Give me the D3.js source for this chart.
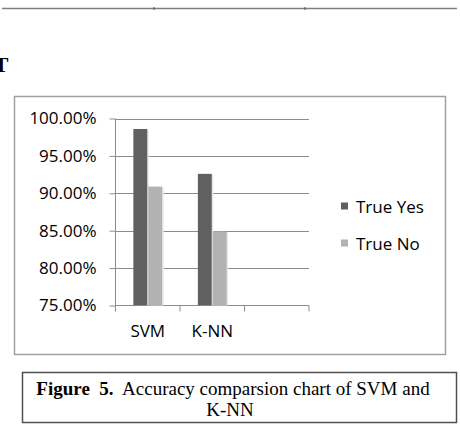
<!DOCTYPE html>
<html>
<head>
<meta charset="utf-8">
<script src="https://cdn.jsdelivr.net/npm/d3@7"></script>
<style>
  body { margin: 0; background: #fff; }
</style>
</head>
<body>
<div id="chart"></div>
<script>
// data
var categories = ["SVM", "K-NN", ""];
var seriesNames = ["True Yes", "True No"];
var trueYes = [0.986, 0.926, null];
var trueNo = [0.909, 0.849, null];
var yTicks = [0.75, 0.80, 0.85, 0.90, 0.95, 1.00];
var colors = ["#606060", "#b2b2b2"];

var W = 460, H = 426;
var svg = d3.select("#chart").append("svg")
    .attr("width", W)
    .attr("height", H);

// page bits around the figure
svg.append("line")
    .attr("x1", 2).attr("x2", 457).attr("y1", 8.5).attr("y2", 8.5)
    .attr("stroke", "#808080").attr("stroke-width", 1.5);
[154, 305].forEach(function(x) {
  svg.append("line").attr("x1", x).attr("x2", x).attr("y1", 7).attr("y2", 10)
      .attr("stroke", "#555").attr("stroke-width", 1);
});
svg.append("text")
    .attr("x", 1).attr("y", 72)
    .attr("text-anchor", "middle")
    .attr("font-family", "Liberation Serif, Times New Roman, serif")
    .attr("font-weight", "bold").attr("font-size", 22)
    .text("T");

// chart frame
svg.append("rect")
    .attr("x", 14.5).attr("y", 96.5).attr("width", 431).attr("height", 258)
    .attr("fill", "none").attr("stroke", "#a0a0a0").attr("stroke-width", 1.5);

var plot = {left: 115.5, right: 309, top: 118.5, bottom: 305.5};

var x = d3.scaleBand()
    .domain(d3.range(categories.length))
    .range([plot.left, plot.right]);

var y = d3.scaleLinear()
    .domain([0.75, 1.0])
    .range([plot.bottom, plot.top]);

var g = svg.append("g");

// gridlines
g.selectAll(".grid")
  .data(yTicks.slice(1))
  .enter().append("line")
    .attr("x1", plot.left).attr("x2", plot.right)
    .attr("y1", function(d) { return Math.round(y(d)) + 0.5; })
    .attr("y2", function(d) { return Math.round(y(d)) + 0.5; })
    .attr("stroke", "#8c8c8c").attr("stroke-width", 1);

// Y axis
var yAxis = g.append("g")
    .attr("transform", "translate(" + plot.left + ",0)")
    .call(d3.axisLeft(y).tickValues(yTicks).tickSize(6).tickPadding(13)
      .tickFormat(d3.format(".2%")));
yAxis.select(".domain").attr("stroke", "#8c8c8c").attr("d", "M0," + plot.top + "V" + plot.bottom);
yAxis.selectAll(".tick line").attr("stroke", "#8c8c8c");
yAxis.selectAll("text")
    .attr("font-family", "Open Sans, sans-serif").attr("font-size", 17)
    .attr("fill", "#000");

// X axis
var xAxis = g.append("g")
    .attr("transform", "translate(0," + plot.bottom + ")")
    .call(d3.axisBottom(x).tickSize(0).tickPadding(19)
      .tickFormat(function(i) { return categories[i]; }));
xAxis.select(".domain").attr("stroke", "#8c8c8c").attr("d", "M" + plot.left + ",0H" + plot.right);
xAxis.selectAll("text")
    .attr("font-family", "Open Sans, sans-serif").attr("font-size", 17)
    .attr("fill", "#000");
// category separators
g.selectAll(".sep")
  .data(d3.range(categories.length + 1))
  .enter().append("line")
    .attr("x1", function(i) { return plot.left + i * x.step(); })
    .attr("x2", function(i) { return plot.left + i * x.step(); })
    .attr("y1", plot.bottom).attr("y2", plot.bottom + 6)
    .attr("stroke", "#8c8c8c");

// bars
var inner = d3.scaleBand()
    .domain([0, 1])
    .range([0, x.bandwidth()])
    .paddingOuter(1.2)
    .paddingInner(0.07);

var series = [trueYes, trueNo];
series.forEach(function(vals, s) {
  var items = vals.map(function(v, i) { return {i: i, v: v}; })
    .filter(function(d) { return d.v != null; });
  // faint shadow
  g.selectAll(".shadow" + s)
    .data(items)
    .enter().append("rect")
      .attr("x", function(d) { return x(d.i) + inner(s) + 1.5; })
      .attr("y", function(d) { return y(d.v) + 1; })
      .attr("width", inner.bandwidth())
      .attr("height", function(d) { return plot.bottom - y(d.v) - 1; })
      .attr("fill", "#e6e6e6");
  g.selectAll(".bar" + s)
    .data(items)
    .enter().append("rect")
      .attr("x", function(d) { return x(d.i) + inner(s); })
      .attr("y", function(d) { return y(d.v); })
      .attr("width", inner.bandwidth())
      .attr("height", function(d) { return plot.bottom - y(d.v); })
      .attr("fill", colors[s]);
});

// legend
var legend = svg.append("g");
seriesNames.forEach(function(name, s) {
  var ly = 206 + s * 37;
  legend.append("rect")
      .attr("x", 341).attr("y", ly - 3.5).attr("width", 7).attr("height", 7)
      .attr("fill", colors[s]);
  legend.append("text")
      .attr("x", 356).attr("y", ly + 6.5)
      .attr("font-family", "Open Sans, sans-serif").attr("font-size", 17)
      .text(name);
});

// caption box
svg.append("rect")
    .attr("x", 22.5).attr("y", 372.5).attr("width", 434).attr("height", 50)
    .attr("fill", "none").attr("stroke", "#505050").attr("stroke-width", 1.5);
var cap = svg.append("text")
    .attr("x", 233).attr("y", 395)
    .attr("text-anchor", "middle")
    .attr("font-family", "Liberation Serif, Times New Roman, serif")
    .attr("font-size", 19)
    .attr("xml:space", "preserve");
cap.append("tspan").attr("font-weight", "bold").text("Figure  5.");
cap.append("tspan").text("  Accuracy comparsion chart of SVM and");
svg.append("text")
    .attr("x", 230).attr("y", 416)
    .attr("text-anchor", "middle")
    .attr("font-family", "Liberation Serif, Times New Roman, serif")
    .attr("font-size", 19)
    .text("K-NN");
</script>
</body>
</html>
